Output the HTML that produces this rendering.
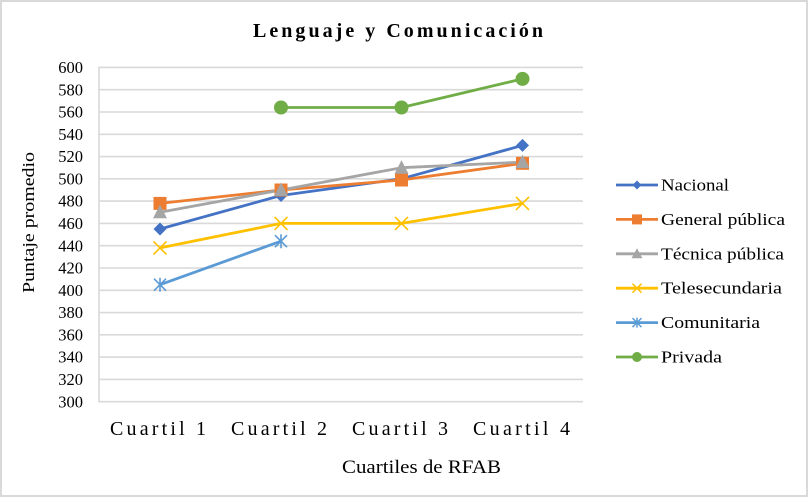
<!DOCTYPE html>
<html><head><meta charset="utf-8"><style>
html,body{margin:0;padding:0;background:#fff;}
svg{display:block;}
text{font-family:"Liberation Serif",serif;fill:#000;}
</style></head><body>
<svg width="808" height="497" viewBox="0 0 808 497" xmlns="http://www.w3.org/2000/svg">
<defs>
<g id="dia"><polygon points="0,-6.5 6.5,0 0,6.5 -6.5,0" fill="#4472C4"/></g>
<g id="sq"><rect x="-6.5" y="-6.5" width="13" height="13" fill="#ED7D31"/></g>
<g id="tri"><polygon points="0,-7.5 7,6 -7,6" fill="#A5A5A5"/></g>
<g id="xm"><path d="M-6.5,-6.5 L6.5,6.5 M-6.5,6.5 L6.5,-6.5" stroke="#FFC000" stroke-width="1.6" fill="none"/></g>
<g id="ast"><path d="M-6,-6 L6,6 M-6,6 L6,-6 M0,-7 L0,7" stroke="#5B9BD5" stroke-width="1.6" fill="none"/></g>
<g id="cir"><circle r="7" fill="#70AD47"/></g>
<g id="ldia"><polygon points="0,-4.5 4.5,0 0,4.5 -4.5,0" fill="#4472C4"/></g>
<g id="lsq"><rect x="-5" y="-5" width="10" height="10" fill="#ED7D31"/></g>
<g id="ltri"><polygon points="0,-5.5 5.5,4.5 -5.5,4.5" fill="#A5A5A5"/></g>
<g id="lxm"><path d="M-4.5,-4.5 L4.5,4.5 M-4.5,4.5 L4.5,-4.5" stroke="#FFC000" stroke-width="1.5" fill="none"/></g>
<g id="last"><path d="M-4.5,-4.5 L4.5,4.5 M-4.5,4.5 L4.5,-4.5 M0,-5 L0,5" stroke="#5B9BD5" stroke-width="1.5" fill="none"/></g>
<g id="lcir"><circle r="5" fill="#70AD47"/></g>
</defs>
<rect x="1" y="1" width="806" height="495" fill="#fff" stroke="#d9d9d9" stroke-width="2"/>
<text x="253" y="37" font-size="20" font-weight="bold" textLength="290" lengthAdjust="spacing">Lenguaje y Comunicación</text>
<g stroke="#d9d9d9" stroke-width="1.6">
<line x1="99" y1="67.4" x2="583" y2="67.4"/>
<line x1="99" y1="89.7" x2="583" y2="89.7"/>
<line x1="99" y1="112.0" x2="583" y2="112.0"/>
<line x1="99" y1="134.3" x2="583" y2="134.3"/>
<line x1="99" y1="156.6" x2="583" y2="156.6"/>
<line x1="99" y1="178.8" x2="583" y2="178.8"/>
<line x1="99" y1="201.1" x2="583" y2="201.1"/>
<line x1="99" y1="223.4" x2="583" y2="223.4"/>
<line x1="99" y1="245.7" x2="583" y2="245.7"/>
<line x1="99" y1="268.0" x2="583" y2="268.0"/>
<line x1="99" y1="290.3" x2="583" y2="290.3"/>
<line x1="99" y1="312.6" x2="583" y2="312.6"/>
<line x1="99" y1="334.8" x2="583" y2="334.8"/>
<line x1="99" y1="357.1" x2="583" y2="357.1"/>
<line x1="99" y1="379.4" x2="583" y2="379.4"/>
<line x1="99" y1="401.7" x2="583" y2="401.7"/>
<line x1="99" y1="66.6" x2="99" y2="402.5"/>
</g>
<g font-size="16.5" text-anchor="end">
<text x="83" y="73">600</text>
<text x="83" y="95.3">580</text>
<text x="83" y="117.6">560</text>
<text x="83" y="139.9">540</text>
<text x="83" y="162.2">520</text>
<text x="83" y="184.4">500</text>
<text x="83" y="206.7">480</text>
<text x="83" y="229">460</text>
<text x="83" y="251.3">440</text>
<text x="83" y="273.6">420</text>
<text x="83" y="295.9">400</text>
<text x="83" y="318.2">380</text>
<text x="83" y="340.4">360</text>
<text x="83" y="362.7">340</text>
<text x="83" y="385">320</text>
<text x="83" y="407.3">300</text>
</g>
<g font-size="20">
<text x="110" y="435" textLength="96" lengthAdjust="spacing">Cuartil 1</text>
<text x="231" y="435" textLength="96" lengthAdjust="spacing">Cuartil 2</text>
<text x="352" y="435" textLength="96" lengthAdjust="spacing">Cuartil 3</text>
<text x="473" y="435" textLength="97" lengthAdjust="spacing">Cuartil 4</text>
</g>
<text x="342" y="473" font-size="19" textLength="159" lengthAdjust="spacingAndGlyphs">Cuartiles de RFAB</text>
<text transform="translate(34,222.5) rotate(-90)" font-size="17" text-anchor="middle" textLength="141" lengthAdjust="spacingAndGlyphs">Puntaje promedio</text>
<g fill="none" stroke-width="2.8" stroke-linejoin="round">
<polyline points="160,229.0 281,195.5 401.5,178.8 522.5,145.4" stroke="#4472C4"/>
<polyline points="160,203.4 281,190.0 401.5,180.0 522.5,163.3" stroke="#ED7D31"/>
<polyline points="160,212.3 281,190.0 401.5,167.7 522.5,162.1" stroke="#A5A5A5"/>
<polyline points="160,247.9 281,223.4 401.5,223.4 522.5,203.4" stroke="#FFC000"/>
<polyline points="160,284.7 281,241.2" stroke="#5B9BD5"/>
<polyline points="281,107.5 401.5,107.5 522.5,78.9" stroke="#70AD47"/>
</g>
<use href="#dia" x="160" y="229.0"/><use href="#dia" x="281" y="195.5"/><use href="#dia" x="401.5" y="178.8"/><use href="#dia" x="522.5" y="145.4"/>
<use href="#sq" x="160" y="203.4"/><use href="#sq" x="281" y="190.0"/><use href="#sq" x="401.5" y="180.0"/><use href="#sq" x="522.5" y="163.3"/>
<use href="#tri" x="160" y="212.3"/><use href="#tri" x="281" y="190.0"/><use href="#tri" x="401.5" y="167.7"/><use href="#tri" x="522.5" y="162.1"/>
<use href="#xm" x="160" y="247.9"/><use href="#xm" x="281" y="223.4"/><use href="#xm" x="401.5" y="223.4"/><use href="#xm" x="522.5" y="203.4"/>
<use href="#ast" x="160" y="284.7"/><use href="#ast" x="281" y="241.2"/>
<use href="#cir" x="281" y="107.5"/><use href="#cir" x="401.5" y="107.5"/><use href="#cir" x="522.5" y="78.9"/>
<g stroke-width="2.8">
<line x1="616" y1="185" x2="658" y2="185" stroke="#4472C4"/>
<line x1="616" y1="219.4" x2="658" y2="219.4" stroke="#ED7D31"/>
<line x1="616" y1="253.8" x2="658" y2="253.8" stroke="#A5A5A5"/>
<line x1="616" y1="288.2" x2="658" y2="288.2" stroke="#FFC000"/>
<line x1="616" y1="322.6" x2="658" y2="322.6" stroke="#5B9BD5"/>
<line x1="616" y1="357" x2="658" y2="357" stroke="#70AD47"/>
</g>
<use href="#ldia" x="637" y="185"/>
<use href="#lsq" x="637" y="219.4"/>
<use href="#ltri" x="637" y="253.8"/>
<use href="#lxm" x="637" y="288.2"/>
<use href="#last" x="637" y="322.6"/>
<use href="#lcir" x="637" y="357"/>
<g font-size="17">
<text x="661" y="190.5" textLength="68" lengthAdjust="spacingAndGlyphs">Nacional</text>
<text x="661" y="224.9" textLength="124" lengthAdjust="spacingAndGlyphs">General pública</text>
<text x="661" y="259.3" textLength="123" lengthAdjust="spacingAndGlyphs">Técnica pública</text>
<text x="661" y="293.7" textLength="121" lengthAdjust="spacingAndGlyphs">Telesecundaria</text>
<text x="661" y="328.1" textLength="99" lengthAdjust="spacingAndGlyphs">Comunitaria</text>
<text x="661" y="362.5" textLength="61" lengthAdjust="spacingAndGlyphs">Privada</text>
</g>
</svg>
</body></html>
